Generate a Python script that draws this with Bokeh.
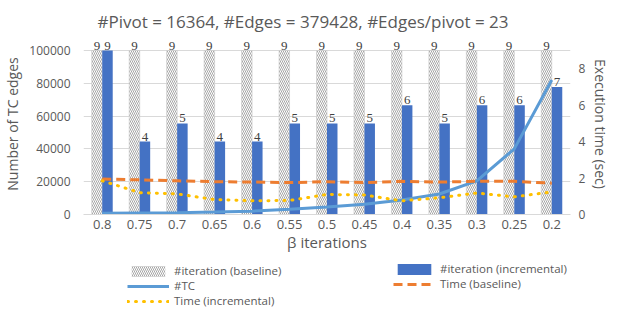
from bokeh.plotting import figure
from bokeh.layouts import column
from bokeh.models import (FactorRange, Range1d, LinearAxis, ColumnDataSource, LabelSet,
                          Legend, LegendItem, FixedTicker, NumeralTickFormatter)
from bokeh.transform import dodge
from bokeh.embed import file_html
from bokeh.resources import INLINE

betas = ["0.8", "0.75", "0.7", "0.65", "0.6", "0.55", "0.5", "0.45", "0.4", "0.35", "0.3", "0.25", "0.2"]
iter_baseline = [9, 9, 9, 9, 9, 9, 9, 9, 9, 9, 9, 9, 9]
iter_incremental = [9, 4, 5, 4, 4, 5, 5, 5, 6, 5, 6, 6, 7]
tc_edges = [700, 900, 1100, 1500, 2000, 3200, 4600, 6200, 8800, 12500, 20500, 40000, 82000]
time_baseline = [1.95, 1.9, 1.85, 1.8, 1.78, 1.75, 1.8, 1.75, 1.82, 1.78, 1.82, 1.82, 1.72]
time_incremental = [1.85, 1.2, 1.13, 0.82, 0.75, 0.77, 1.1, 1.07, 0.75, 0.92, 1.18, 0.97, 1.24]
left_ticks = [0, 20000, 40000, 60000, 80000, 100000]
right_ticks = [0, 2, 4, 6, 8]
left_max, right_max = 100000, 9

FONT = "Open Sans"
TXT = "#595959"

# frame is 181 px tall; the 100000 / 9 gridline sits 164 px above the bottom,
# leaving headroom inside the frame for the value labels on top of the bars
HEAD = 181 / 164

BASE_STYLE = dict(fill_color="white", line_color="#c8c8c8", line_width=0.6,
                  hatch_pattern="\\", hatch_color="#a6a6a6", hatch_scale=4, hatch_weight=1.0)
INC_STYLE = dict(fill_color="#4472C4", line_color=None)
TC_STYLE = dict(line_color="#5B9BD5", line_width=3)
TB_STYLE = dict(line_color="#ED7D31", line_width=3, line_dash="9 5")
TI_STYLE = dict(line_color="#FFC000", line_width=3, line_dash="1 7", line_cap="round")

src = ColumnDataSource(dict(
    beta=betas, ib=iter_baseline, ii=iter_incremental,
    ib_txt=[str(v) for v in iter_baseline], ii_txt=[str(v) for v in iter_incremental],
    tc=tc_edges, tb=time_baseline, ti=time_incremental))

p = figure(x_range=FactorRange(*betas), y_range=Range1d(0, left_max * HEAD),
           width=613, height=258, output_backend="svg", toolbar_location=None,
           min_border_left=83, min_border_right=39, min_border_top=33, min_border_bottom=44,
           title="#Pivot = 16364, #Edges = 379428, #Edges/pivot = 23")
p.extra_y_ranges = {"time": Range1d(0, right_max * HEAD)}
p.outline_line_color = None
p.background_fill_color = "white"

p.title.align = "left"
p.title.offset = 14
p.title.text_font = FONT
p.title.text_font_size = "17px"
p.title.text_font_style = "normal"
p.title.text_color = TXT
p.title.standoff = 2

p.xgrid.grid_line_color = None
p.ygrid.ticker = FixedTicker(ticks=left_ticks)
p.ygrid.grid_line_color = "#d9d9d9"
p.ygrid.grid_line_width = 1


def style_axis(ax, size, standoff, label, label_size, label_standoff):
    ax.axis_line_color = None
    ax.major_tick_line_color = None
    ax.minor_tick_line_color = None
    ax.major_tick_out = 0
    ax.major_tick_in = 0
    ax.minor_tick_out = 0
    ax.minor_tick_in = 0
    ax.major_label_text_font = FONT
    ax.major_label_text_font_size = size
    ax.major_label_text_color = TXT
    ax.major_label_standoff = standoff
    ax.axis_label = label
    ax.axis_label_text_font = FONT
    ax.axis_label_text_font_size = label_size
    ax.axis_label_text_font_style = "normal"
    ax.axis_label_text_color = TXT
    ax.axis_label_standoff = label_standoff


la = p.yaxis[0]
la.ticker = FixedTicker(ticks=left_ticks)
la.formatter = NumeralTickFormatter(format="0")
style_axis(la, "12px", 13, "Number of TC edges", "14px", 4)

ra = LinearAxis(y_range_name="time", ticker=FixedTicker(ticks=right_ticks))
style_axis(ra, "12px", 8, "Execution time (sec)", "14px", 3)
p.add_layout(ra, "right")

xa = p.xaxis[0]
style_axis(xa, "13px", 5, "\u03b2 iterations", "15px", 0)
xa.axis_line_color = "#d9d9d9"

W = 0.28
p.vbar(x=dodge("beta", -W / 2, range=p.x_range), top="ib", width=W, source=src,
       y_range_name="time", **BASE_STYLE)
p.vbar(x=dodge("beta", W / 2, range=p.x_range), top="ii", width=W, source=src,
       y_range_name="time", **INC_STYLE)
p.line(x="beta", y="tc", source=src, **TC_STYLE)
p.line(x="beta", y="tb", source=src, y_range_name="time", **TB_STYLE)
p.line(x="beta", y="ti", source=src, y_range_name="time", **TI_STYLE)

lab_kw = dict(source=src, y_range_name="time", text_align="center", text_baseline="bottom",
              text_font_size="13px", text_color="#404040", y_offset=1, text_font=FONT)
p.add_layout(LabelSet(x=dodge("beta", -W / 2, range=p.x_range), y="ib", text="ib_txt", **lab_kw))
p.add_layout(LabelSet(x=dodge("beta", W / 2, range=p.x_range), y="ii", text="ii_txt", **lab_kw))

# legend strip below the chart; its renderers lie outside its visible y range
pl = figure(width=613, height=52, output_backend="svg", toolbar_location=None,
            x_range=p.x_range, y_range=Range1d(2e6, 3e6),
            x_axis_type=None, y_axis_type=None,
            min_border_left=83, min_border_right=39, min_border_top=0, min_border_bottom=0)
pl.outline_line_color = None
pl.xgrid.grid_line_color = None
pl.ygrid.grid_line_color = None
LEG_BASE = dict(BASE_STYLE, line_color=None)
g_ib = pl.vbar(x="beta", top="ib", width=W, source=src, **LEG_BASE)
g_ii = pl.vbar(x="beta", top="ii", width=W, source=src, **INC_STYLE)
g_tc = pl.line(x="beta", y="tc", source=src, **TC_STYLE)
g_tb = pl.line(x="beta", y="tb", source=src, **TB_STYLE)
g_ti = pl.line(x="beta", y="ti", source=src, **TI_STYLE)


def style_legend(lg):
    lg.border_line_color = None
    lg.background_fill_alpha = 0
    lg.label_text_font = FONT
    lg.label_text_font_size = "11.5px"
    lg.label_text_color = TXT
    lg.glyph_width = 42
    lg.glyph_height = 14
    lg.label_height = 14
    lg.label_standoff = 5
    lg.spacing = 0
    lg.padding = 0
    lg.margin = 0


leg1 = Legend(items=[
    LegendItem(label="#iteration (baseline)", renderers=[g_ib]),
    LegendItem(label="#TC", renderers=[g_tc]),
    LegendItem(label="Time (incremental)", renderers=[g_ti]),
], location=(44, 2))
leg2 = Legend(items=[
    LegendItem(label="#iteration (incremental)", renderers=[g_ii]),
    LegendItem(label="Time (baseline)", renderers=[g_tb]),
], location=(310, 19))
style_legend(leg1)
style_legend(leg2)
pl.add_layout(leg1)
pl.add_layout(leg2)

layout = column(p, pl, spacing=0)
open("out.html", "w").write(file_html(layout, INLINE))
